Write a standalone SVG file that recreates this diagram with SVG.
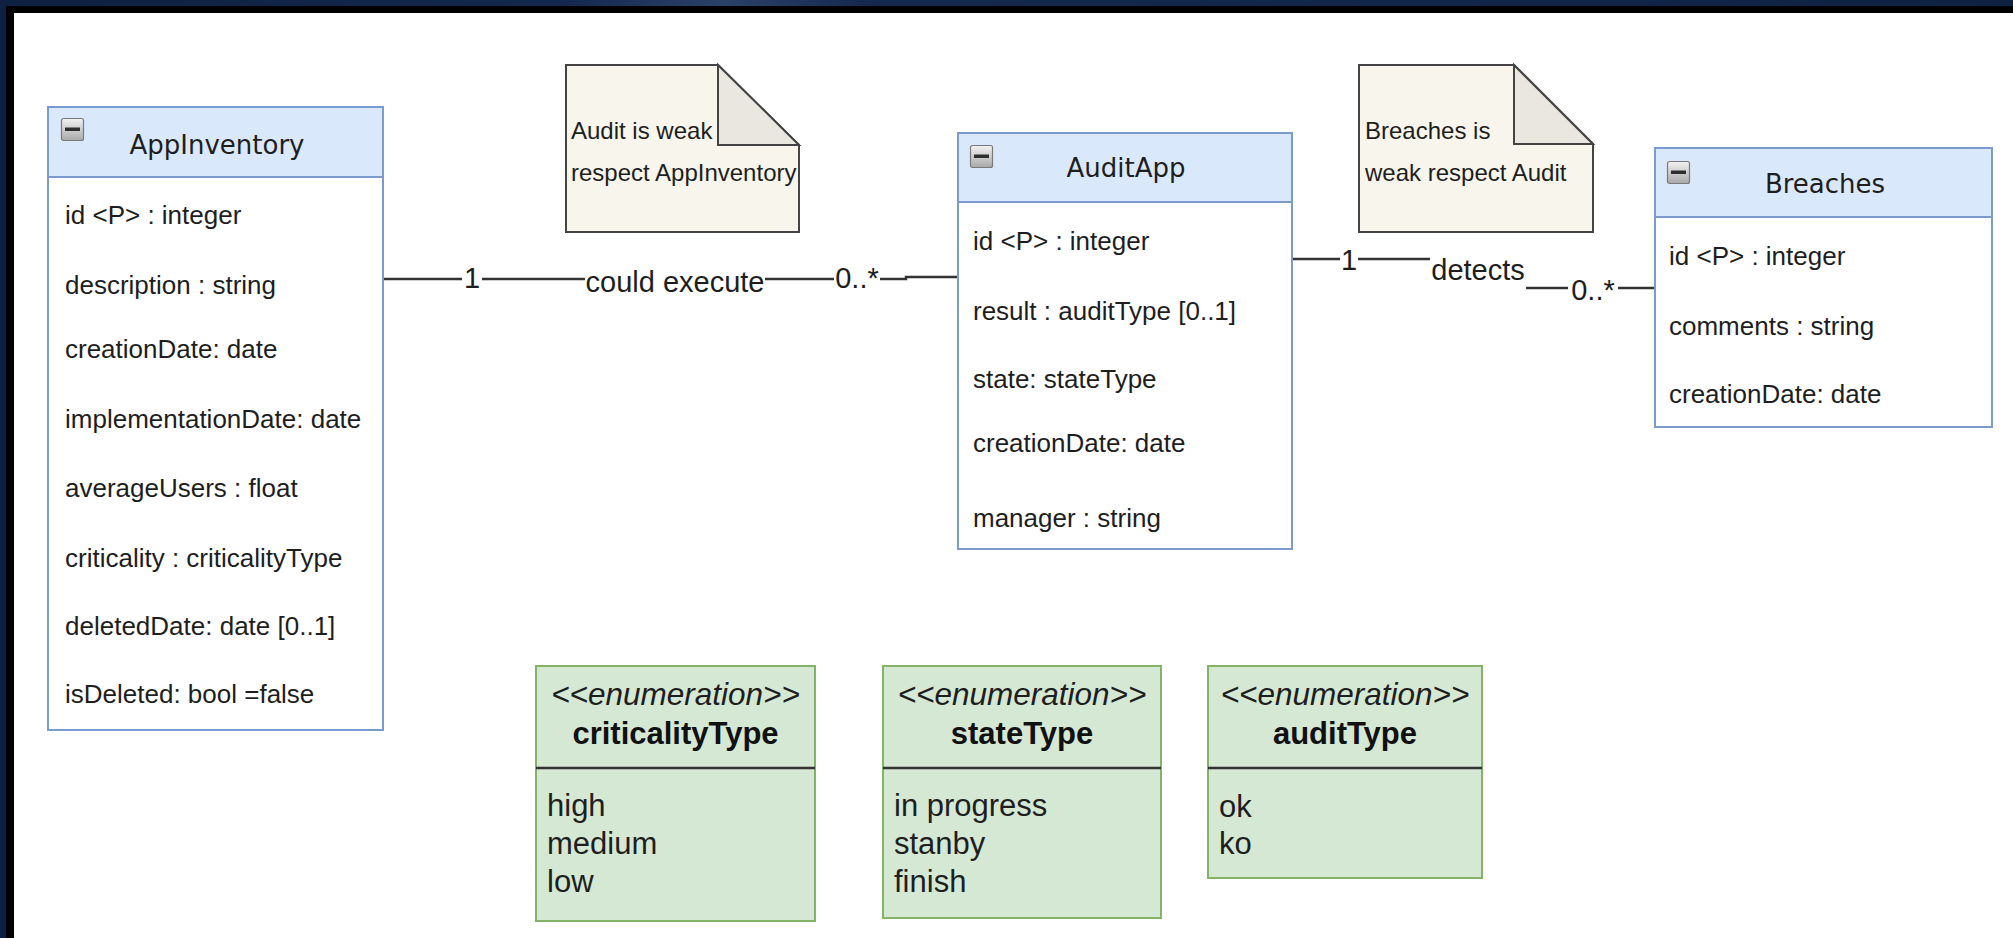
<svg xmlns="http://www.w3.org/2000/svg" width="2013" height="938" viewBox="0 0 2013 938">
<defs>
  <linearGradient id="topband" x1="0" y1="0" x2="1" y2="0">
    <stop offset="0" stop-color="#0f2142"/>
    <stop offset="0.28" stop-color="#13284c"/>
    <stop offset="0.36" stop-color="#2b4268"/>
    <stop offset="0.43" stop-color="#14294d"/>
    <stop offset="1" stop-color="#0f2244"/>
  </linearGradient>
  <linearGradient id="btnGrad" x1="0" y1="0" x2="0" y2="1">
    <stop offset="0" stop-color="#f2f2f2"/>
    <stop offset="1" stop-color="#a9a9a9"/>
  </linearGradient>
  <g id="minusIcon">
    <rect x="0.5" y="0.5" width="22" height="22" rx="2" fill="url(#btnGrad)" stroke="#7a7a7a" stroke-width="1.2"/>
    <rect x="4" y="9.5" width="15" height="3.5" fill="#2e2e2e"/>
  </g>
  <style>
    .cbody { fill: #ffffff; stroke: #7b9bcf; stroke-width: 2; }
    .chead { fill: #dae8fc; stroke: #7b9bcf; stroke-width: 2; }
    .ctitle { font-family: "DejaVu Sans", Verdana, sans-serif; font-size: 26px; fill: #1e1e1e; text-anchor: middle; }
    .attr { font-family: "Liberation Sans", Arial, sans-serif; font-size: 26px; fill: #1e1e1e; }
    .note { fill: #f7f5ec; stroke: #444444; stroke-width: 2; stroke-linejoin: miter; }
    .fold { fill: #e9e7df; stroke: #444444; stroke-width: 2; }
    .ntext { font-family: "Liberation Sans", Arial, sans-serif; font-size: 24px; fill: #1e1e1e; }
    .conn { fill: none; stroke: #333333; stroke-width: 2.5; }
    .lbg { fill: #ffffff; }
    .ltext { font-family: "Liberation Sans", Arial, sans-serif; font-size: 29px; fill: #1e1e1e; text-anchor: middle; }
    .ebox { fill: #d5e8d4; stroke: #82b366; stroke-width: 2; }
    .esep { stroke: #333333; stroke-width: 2.5; }
    .estereo { font-family: "Liberation Sans", Arial, sans-serif; font-size: 31.5px; font-style: italic; fill: #1e1e1e; text-anchor: middle; }
    .etitle { font-family: "Liberation Sans", Arial, sans-serif; font-size: 31px; font-weight: bold; fill: #111111; text-anchor: middle; }
    .eitem { font-family: "Liberation Sans", Arial, sans-serif; font-size: 31px; fill: #1e1e1e; }
  </style>
</defs>

<!-- background / window frame -->
<rect x="0" y="0" width="2013" height="938" fill="#ffffff"/>
<rect x="0" y="0" width="2013" height="6" fill="url(#topband)"/>
<rect x="0" y="6" width="2013" height="7" fill="#000000"/>
<rect x="0" y="0" width="6" height="938" fill="#0f2142"/>
<rect x="6" y="6" width="8" height="932" fill="#000000"/>

<!-- connectors -->
<g id="connectors">
  <path class="conn" d="M383,279 H906 V277 H958"/>
  <rect class="lbg" x="462" y="264" width="20" height="28"/>
  <text class="ltext" x="472" y="288">1</text>
  <rect class="lbg" x="585" y="266" width="180" height="32"/>
  <text class="ltext" x="675" y="292">could execute</text>
  <rect class="lbg" x="834" y="264" width="46" height="28"/>
  <text class="ltext" x="857" y="288">0..*</text>

  <path class="conn" d="M1291,259 H1477 V288 H1655"/>
  <rect class="lbg" x="1340" y="246" width="18" height="28"/>
  <text class="ltext" x="1349" y="270">1</text>
  <rect class="lbg" x="1430" y="253" width="96" height="38"/>
  <text class="ltext" x="1478" y="280">detects</text>
  <rect class="lbg" x="1568" y="276" width="50" height="28"/>
  <text class="ltext" x="1593" y="300">0..*</text>
</g>

<!-- notes -->
<g id="note1">
  <path class="note" d="M566,65 H718 L799,145 V232 H566 Z"/>
  <path class="fold" d="M718,65 V145 H799 Z"/>
  <text class="ntext" x="571" y="139">Audit is weak</text>
  <text class="ntext" x="571" y="181">respect AppInventory</text>
</g>
<g id="note2">
  <path class="note" d="M1359,65 H1514 L1593,144 V232 H1359 Z"/>
  <path class="fold" d="M1514,65 V144 H1593 Z"/>
  <text class="ntext" x="1365" y="139">Breaches is</text>
  <text class="ntext" x="1365" y="181">weak respect Audit</text>
</g>

<!-- classes -->
<g id="AppInventory">
  <rect class="cbody" x="48" y="107" width="335" height="623"/>
  <rect class="chead" x="48" y="107" width="335" height="70"/>
  <use href="#minusIcon" x="61" y="118"/>
  <text class="ctitle" x="217" y="154">AppInventory</text>
  <text class="attr" x="65" y="224">id &lt;P&gt; : integer</text>
  <text class="attr" x="65" y="294">description : string</text>
  <text class="attr" x="65" y="358">creationDate: date</text>
  <text class="attr" x="65" y="428">implementationDate: date</text>
  <text class="attr" x="65" y="497">averageUsers : float</text>
  <text class="attr" x="65" y="567">criticality : criticalityType</text>
  <text class="attr" x="65" y="635">deletedDate: date [0..1]</text>
  <text class="attr" x="65" y="703">isDeleted: bool =false</text>
</g>

<g id="AuditApp">
  <rect class="cbody" x="958" y="133" width="334" height="416"/>
  <rect class="chead" x="958" y="133" width="334" height="69"/>
  <use href="#minusIcon" x="970" y="145"/>
  <text class="ctitle" x="1126" y="177">AuditApp</text>
  <text class="attr" x="973" y="250">id &lt;P&gt; : integer</text>
  <text class="attr" x="973" y="320">result : auditType [0..1]</text>
  <text class="attr" x="973" y="388">state: stateType</text>
  <text class="attr" x="973" y="452">creationDate: date</text>
  <text class="attr" x="973" y="527">manager : string</text>
</g>

<g id="Breaches">
  <rect class="cbody" x="1655" y="148" width="337" height="279"/>
  <rect class="chead" x="1655" y="148" width="337" height="69"/>
  <use href="#minusIcon" x="1667" y="161"/>
  <text class="ctitle" x="1825" y="193">Breaches</text>
  <text class="attr" x="1669" y="265">id &lt;P&gt; : integer</text>
  <text class="attr" x="1669" y="335">comments : string</text>
  <text class="attr" x="1669" y="403">creationDate: date</text>
</g>

<!-- enumerations -->
<g id="criticalityType">
  <rect class="ebox" x="536" y="666" width="279" height="255"/>
  <line class="esep" x1="536" y1="768" x2="815" y2="768"/>
  <text class="estereo" x="675.5" y="705">&lt;&lt;enumeration&gt;&gt;</text>
  <text class="etitle" x="675.5" y="744">criticalityType</text>
  <text class="eitem" x="547" y="816">high</text>
  <text class="eitem" x="547" y="854">medium</text>
  <text class="eitem" x="547" y="892">low</text>
</g>

<g id="stateType">
  <rect class="ebox" x="883" y="666" width="278" height="252"/>
  <line class="esep" x1="883" y1="768" x2="1161" y2="768"/>
  <text class="estereo" x="1022" y="705">&lt;&lt;enumeration&gt;&gt;</text>
  <text class="etitle" x="1022" y="744">stateType</text>
  <text class="eitem" x="894" y="816">in progress</text>
  <text class="eitem" x="894" y="854">stanby</text>
  <text class="eitem" x="894" y="892">finish</text>
</g>

<g id="auditType">
  <rect class="ebox" x="1208" y="666" width="274" height="212"/>
  <line class="esep" x1="1208" y1="768" x2="1482" y2="768"/>
  <text class="estereo" x="1345" y="705">&lt;&lt;enumeration&gt;&gt;</text>
  <text class="etitle" x="1345" y="744">auditType</text>
  <text class="eitem" x="1219" y="817">ok</text>
  <text class="eitem" x="1219" y="854">ko</text>
</g>
</svg>
